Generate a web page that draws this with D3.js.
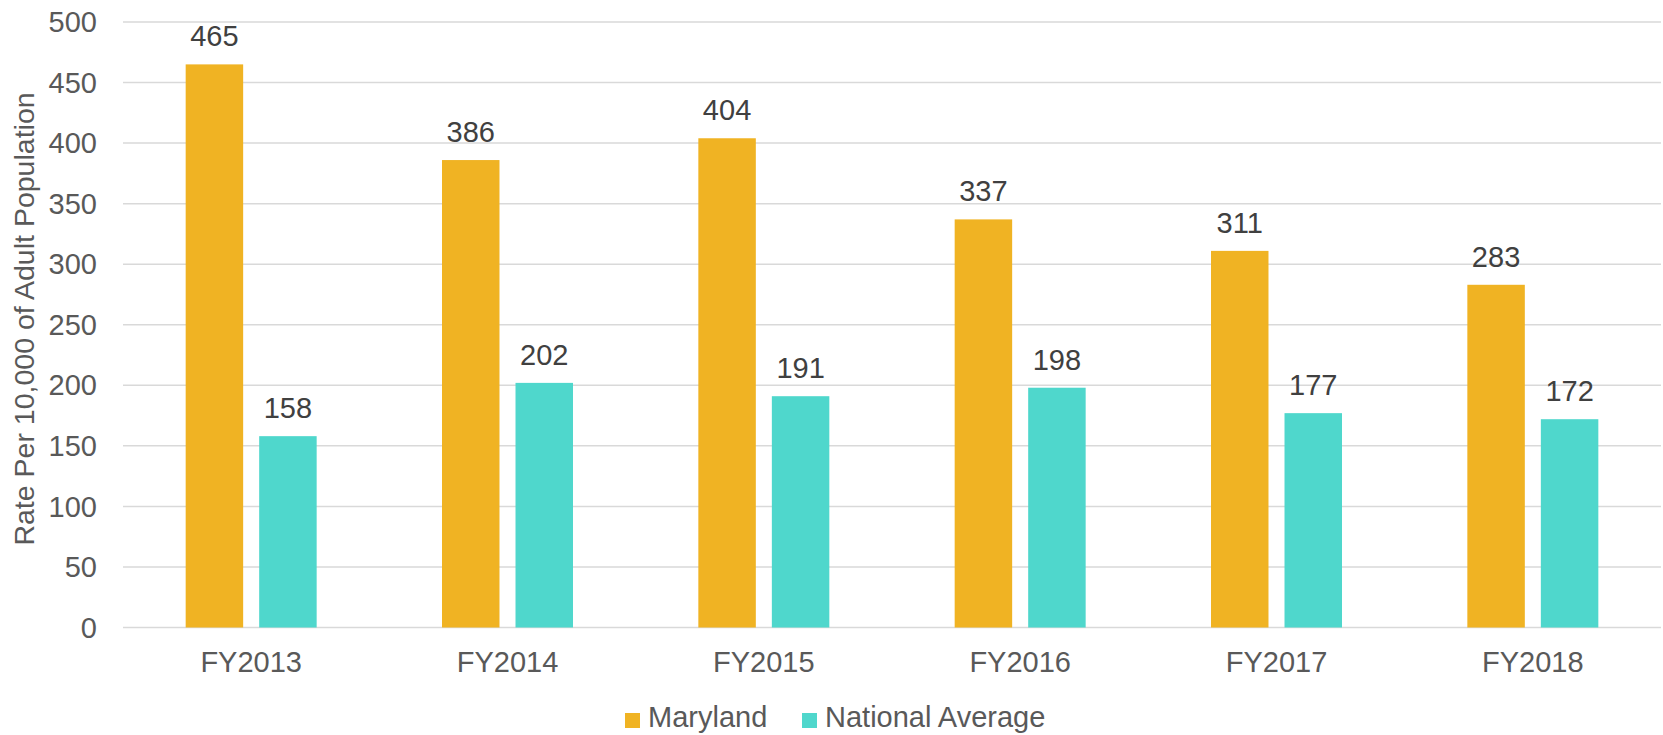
<!DOCTYPE html>
<html>
<head>
<meta charset="utf-8">
<script src="https://cdn.jsdelivr.net/npm/d3@7"></script>
<style>
  body { margin: 0; background: #fff; }
  svg text { font-family: "Liberation Sans", Arial, sans-serif; }
</style>
</head>
<body>
<svg id="chart" width="1663" height="735"></svg>
<script>
const years = ["FY2013", "FY2014", "FY2015", "FY2016", "FY2017", "FY2018"];
const maryland = [465, 386, 404, 337, 311, 283];
const national = [158, 202, 191, 198, 177, 172];
const seriesNames = ["Maryland", "National Average"];
const seriesColors = ["#F0B323", "#4FD7CC"];
const yTicks = [0, 50, 100, 150, 200, 250, 300, 350, 400, 450, 500];

const width = 1663, height = 735;
const margin = {top: 22, right: 2, bottom: 107.5, left: 123};

const svg = d3.select("#chart");

const y = d3.scaleLinear()
  .domain([0, 500])
  .range([height - margin.bottom, margin.top]);

const x0 = d3.scaleBand()
  .domain(years)
  .range([margin.left, width - margin.right])
  .paddingInner(0.489)
  .paddingOuter(0.2445);

const x1 = d3.scaleBand()
  .domain(seriesNames)
  .range([0, x0.bandwidth()])
  .paddingInner(0.218);

// gridlines
svg.append("g")
  .selectAll("line")
  .data(yTicks)
  .enter()
  .append("line")
  .attr("x1", margin.left)
  .attr("x2", width - margin.right)
  .attr("y1", d => y(d))
  .attr("y2", d => y(d))
  .attr("stroke", "#d9d9d9")
  .attr("stroke-width", 1.5);

// y tick labels
svg.append("g")
  .selectAll("text")
  .data(yTicks)
  .enter()
  .append("text")
  .attr("x", 97)
  .attr("y", d => y(d))
  .attr("dy", "0.35em")
  .attr("text-anchor", "end")
  .attr("fill", "#595959")
  .style("font-size", "29px")
  .text(d => d);

// y axis title
svg.append("text")
  .attr("transform", "translate(34, 319) rotate(-90)")
  .attr("text-anchor", "middle")
  .attr("fill", "#595959")
  .style("font-size", "28.5px")
  .text("Rate Per 10,000 of Adult Population");

const rows = years.map((yr, i) => ({year: yr, values: [maryland[i], national[i]]}));

const groups = svg.append("g")
  .selectAll("g")
  .data(rows)
  .enter()
  .append("g")
  .attr("transform", d => `translate(${x0(d.year)},0)`);

groups.selectAll("rect")
  .data(d => d.values.map((v, j) => ({name: seriesNames[j], value: v, color: seriesColors[j]})))
  .enter()
  .append("rect")
  .attr("x", d => x1(d.name))
  .attr("width", x1.bandwidth())
  .attr("y", d => y(d.value))
  .attr("height", d => y(0) - y(d.value))
  .attr("fill", d => d.color);

groups.selectAll("text.label")
  .data(d => d.values.map((v, j) => ({name: seriesNames[j], value: v})))
  .enter()
  .append("text")
  .attr("class", "label")
  .attr("x", d => x1(d.name) + x1.bandwidth() / 2)
  .attr("y", d => y(d.value) - 18)
  .attr("text-anchor", "middle")
  .attr("fill", "#404040")
  .style("font-size", "29px")
  .text(d => d.value);

// x labels
svg.append("g")
  .selectAll("text")
  .data(years)
  .enter()
  .append("text")
  .attr("x", d => x0(d) + x0.bandwidth() / 2)
  .attr("y", 671.5)
  .attr("text-anchor", "middle")
  .attr("fill", "#595959")
  .style("font-size", "29px")
  .text(d => d);

// legend
const legendX = [625, 802];
const legend = svg.append("g")
  .selectAll("g")
  .data(seriesNames)
  .enter()
  .append("g")
  .attr("transform", (d, i) => `translate(${legendX[i]}, 713)`);

legend.append("rect")
  .attr("width", 15)
  .attr("height", 15)
  .attr("fill", (d, i) => seriesColors[i]);

legend.append("text")
  .attr("x", 23)
  .attr("y", 14)
  .attr("fill", "#595959")
  .style("font-size", "29px")
  .text(d => d);
</script>
</body>
</html>
